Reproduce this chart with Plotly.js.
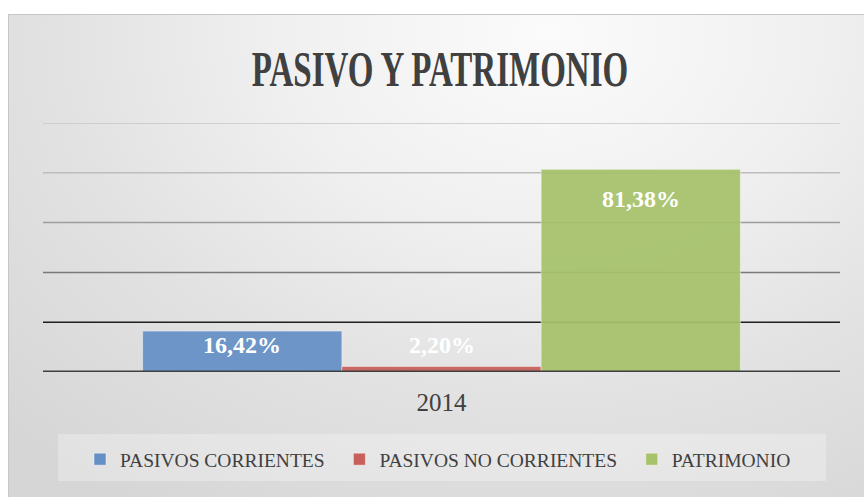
<!DOCTYPE html>
<html>
<head>
<meta charset="utf-8">
<script src="https://cdn.plot.ly/plotly-3.0.1.min.js"></script>
<style>
  html, body { margin: 0; padding: 0; background: #ffffff; }
  #wrap { position: relative; width: 864px; height: 497px; overflow: hidden; background: #ffffff; }
  #frame {
    position: absolute; left: 8px; top: 14px; width: 900px; height: 520px;
    border: 1.5px solid #c6c6c6; box-sizing: border-box;
    background: radial-gradient(ellipse 760px 560px at 540px 20px, #fbfbfb 0%, #f0f0f0 35%, #e2e2e2 65%, #d6d6d6 100%);
  }
  #legendbox {
    position: absolute; left: 58px; top: 434px; width: 768px; height: 47px;
    background: rgba(255,255,255,0.28);
  }
  #chart { position: absolute; left: 0; top: 0; width: 864px; height: 497px; }
</style>
</head>
<body>
<div id="wrap">
  <div id="frame"></div>
  <div id="legendbox"></div>
  <div id="chart"></div>
</div>
<script>
// ---- data ----
const categories = ['2014'];
const seriesNames = ['PASIVOS CORRIENTES', 'PASIVOS NO CORRIENTES', 'PATRIMONIO'];
const pasivosCorrientes = [16.42];
const pasivosNoCorrientes = [2.20];
const patrimonio = [81.38];
const gridValues = [20, 40, 60, 80, 100];
const chartTitle = 'PASIVO Y PATRIMONIO';

// ---- style ----
const W = 864, H = 497;
const margin = {l: 43, r: 24, t: 123, b: 125, pad: 0, autoexpand: false};
const barColors = ['#6590c6', '#c85f5a', '#a6c26b'];
const gridColors = ['#1f1f1f', '#7a7a7a', '#9c9c9c', '#bdbdbd', '#c6c6c6'];
const labelShift = [-13.5, 22, -30];
const bargap = 0.25;
const textColor = '#404040';
const serif = 'Liberation Serif';

const seriesValues = [pasivosCorrientes, pasivosNoCorrientes, patrimonio];
const fmt = v => v.toFixed(2).replace('.', ',') + '%';

const traces = seriesValues.map((vals, i) => ({
  type: 'bar',
  x: categories,
  y: vals,
  name: seriesNames[i] + '\u00a0\u00a0',
  marker: {color: barColors[i], opacity: 0.93, line: {color: 'rgba(255,255,255,0.45)', width: 1}},
  hoverinfo: 'none'
}));

const plotW = W - margin.l - margin.r;
const plotH = H - margin.t - margin.b;
const barPx = plotW * (1 - bargap) / seriesValues.length;

const annotations = [];
seriesValues.forEach((vals, i) => {
  vals.forEach((v, j) => {
    annotations.push({
      xref: 'x', yref: 'y', x: j, y: v,
      xshift: (i - (seriesValues.length - 1) / 2) * barPx,
      yshift: labelShift[i],
      text: fmt(v), showarrow: false,
      xanchor: 'center', yanchor: 'middle',
      font: {family: serif, size: 24, color: '#ffffff', weight: 'bold'}
    });
  });
});

const shapes = gridValues.map((g, k) => ({
  type: 'line', xref: 'paper', x0: 0, x1: 1, yref: 'y', y0: g, y1: g,
  line: {color: gridColors[k], width: 1.5}, layer: 'below'
}));
shapes.push({
  type: 'line', xref: 'paper', x0: 0, x1: 1, yref: 'y', y0: 0, y1: 0,
  line: {color: '#3f3f3f', width: 3}, layer: 'above'
});

const layout = {
  width: W, height: H,
  margin: margin,
  font: {family: serif, color: textColor},
  paper_bgcolor: 'rgba(0,0,0,0)',
  plot_bgcolor: 'rgba(0,0,0,0)',
  barmode: 'group',
  bargap: bargap,
  bargroupgap: 0,
  showlegend: true,
  title: {
    text: chartTitle,
    xref: 'container', yref: 'container',
    x: 440 / W, y: 1 - 68.5 / H,
    xanchor: 'center', yanchor: 'middle',
    font: {family: serif, size: 50, color: textColor, weight: 'bold'}
  },
  xaxis: {
    type: 'category',
    range: [-0.5, categories.length - 0.5],
    showgrid: false, zeroline: false, showline: false, ticks: '',
    tickfont: {family: serif, size: 25, color: textColor},
    ticklabelstandoff: 13,
    fixedrange: true
  },
  yaxis: {
    range: [0, 100],
    showgrid: false, zeroline: false, showline: false, showticklabels: false, ticks: '',
    fixedrange: true
  },
  legend: {
    orientation: 'h',
    x: (80 - margin.l) / plotW, xanchor: 'left',
    y: -(459.5 - (H - margin.b)) / plotH, yanchor: 'middle',
    bgcolor: 'rgba(0,0,0,0)',
    font: {family: serif, size: 19.5, color: textColor},
    traceorder: 'normal'
  },
  shapes: shapes,
  annotations: annotations
};

Plotly.newPlot('chart', traces, layout, {displayModeBar: false, staticPlot: true}).then(() => {
  const t = document.querySelector('.gtitle');
  if (t) {
    const bb = t.getBBox();
    const cx = bb.x + bb.width / 2;
    t.setAttribute('transform', 'translate(' + cx + ',0) scale(0.66,1) translate(' + (-cx) + ',0)');
  }
});
</script>
</body>
</html>
